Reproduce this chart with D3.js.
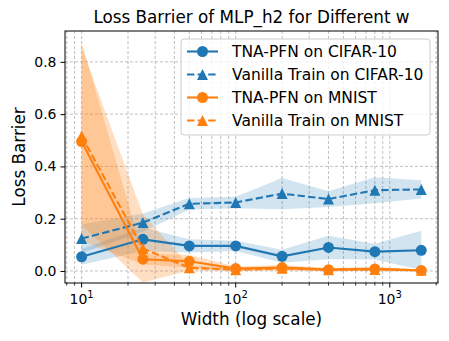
<!DOCTYPE html>
<html>
<head>
<meta charset="utf-8">
<script src="https://cdn.jsdelivr.net/npm/d3@7"></script>
<style>
  body { margin: 0; background: #fff; }
  svg { font-family: "DejaVu Sans", sans-serif; }
</style>
</head>
<body>
<div id="chart"></div>
<script>
// widths on the x axis
var widths = [10, 25, 50, 100, 200, 400, 800, 1600];

// mean loss barrier
var tnaCifar     = [0.054, 0.121, 0.096, 0.096, 0.056, 0.090, 0.074, 0.079];
var vanillaCifar = [0.124, 0.185, 0.257, 0.262, 0.296, 0.275, 0.309, 0.312];
var tnaMnist     = [0.495, 0.045, 0.037, 0.009, 0.013, 0.005, 0.008, 0.002];
var vanillaMnist = [0.516, 0.086, 0.012, 0.005, 0.010, 0.005, 0.006, 0.003];

// spread (std) shown as shaded band
var tnaCifarStd     = [0.030, 0.045, 0.025, 0.020, 0.025, 0.045, 0.030, 0.075];
var vanillaCifarStd = [0.055, 0.035, 0.022, 0.022, 0.060, 0.030, 0.050, 0.035];
var tnaMnistStd     = [0.380, 0.020, 0.025, 0.008, 0.010, 0.006, 0.008, 0.004];
var vanillaMnistStd = [0.340, 0.130, 0.010, 0.006, 0.008, 0.005, 0.006, 0.004];

var yTicks = [0.0, 0.2, 0.4, 0.6, 0.8];
var xMajor = [10, 100, 1000];

var series = [
  {name: 'TNA-PFN on CIFAR-10', mean: tnaCifar, std: tnaCifarStd, color: '#1f77b4', dash: null, marker: 'circle'},
  {name: 'Vanilla Train on CIFAR-10', mean: vanillaCifar, std: vanillaCifarStd, color: '#1f77b4', dash: '7.4,3.2', marker: 'triangle'},
  {name: 'TNA-PFN on MNIST', mean: tnaMnist, std: tnaMnistStd, color: '#ff7f0e', dash: null, marker: 'circle'},
  {name: 'Vanilla Train on MNIST', mean: vanillaMnist, std: vanillaMnistStd, color: '#ff7f0e', dash: '7.4,3.2', marker: 'triangle'}
];

var W = 449, H = 341;
var margin = {left: 65, top: 31, right: 11, bottom: 58};
var pw = W - margin.left - margin.right;
var ph = H - margin.top - margin.bottom;

var svg = d3.select('#chart').append('svg')
  .attr('width', W).attr('height', H);

var x = d3.scaleLog().domain([7.8, 2055]).range([0, pw]);
var y = d3.scaleLinear().domain([-0.046, 0.918]).range([ph, 0]);

var g = svg.append('g').attr('transform', 'translate(' + margin.left + ',' + margin.top + ')');

g.append('defs').append('clipPath').attr('id', 'clip')
  .append('rect').attr('width', pw).attr('height', ph);

// grid: x major + minor, y major
var xMinor = [];
[1, 10, 100, 1000].forEach(function(b) {
  for (var k = 2; k <= 9; k++) {
    var v = b * k;
    if (v > 7.8 && v < 2055) xMinor.push(v);
  }
});
var grid = g.append('g').attr('clip-path', 'url(#clip)');
grid.selectAll('.gx').data(xMajor.concat(xMinor)).enter().append('line')
  .attr('x1', function(d) { return x(d); }).attr('x2', function(d) { return x(d); })
  .attr('y1', 0).attr('y2', ph)
  .attr('stroke', '#b0b0b0').attr('stroke-width', 0.8).attr('stroke-dasharray', '3,2');
grid.selectAll('.gy').data(yTicks).enter().append('line')
  .attr('x1', 0).attr('x2', pw)
  .attr('y1', function(d) { return y(d); }).attr('y2', function(d) { return y(d); })
  .attr('stroke', '#b0b0b0').attr('stroke-width', 0.8).attr('stroke-dasharray', '3,2');

// bands
var area = d3.area()
  .x(function(d) { return x(d.w); })
  .y0(function(d) { return y(d.m - d.s); })
  .y1(function(d) { return y(d.m + d.s); });

var plot = g.append('g').attr('clip-path', 'url(#clip)');
series.forEach(function(s) {
  var pts = widths.map(function(w, i) { return {w: w, m: s.mean[i], s: s.std[i]}; });
  plot.append('path').datum(pts).attr('d', area)
    .attr('fill', s.color).attr('fill-opacity', s.color === '#ff7f0e' ? 0.25 : 0.2);
});

var line = d3.line()
  .x(function(d) { return x(d.w); })
  .y(function(d) { return y(d.m); });

// matplotlib style '^' marker: width = height
var ms = 11;
var triPath = 'M0,' + (-ms / 2) + 'L' + (ms / 2) + ',' + (ms / 2) + 'L' + (-ms / 2) + ',' + (ms / 2) + 'Z';

series.forEach(function(s) {
  var pts = widths.map(function(w, i) { return {w: w, m: s.mean[i]}; });
  plot.append('path').datum(pts).attr('d', line)
    .attr('fill', 'none').attr('stroke', s.color).attr('stroke-width', 2.1)
    .attr('stroke-dasharray', s.dash);
  if (s.marker === 'circle') {
    plot.selectAll(null).data(pts).enter().append('circle')
      .attr('cx', function(d) { return x(d.w); }).attr('cy', function(d) { return y(d.m); })
      .attr('r', ms / 2).attr('fill', s.color);
  } else {
    plot.selectAll(null).data(pts).enter().append('path')
      .attr('d', triPath)
      .attr('transform', function(d) { return 'translate(' + x(d.w) + ',' + y(d.m) + ')'; })
      .attr('fill', s.color);
  }
});

// frame
g.append('rect').attr('width', pw).attr('height', ph)
  .attr('fill', 'none').attr('stroke', '#000').attr('stroke-width', 1);

// y axis
var yAxis = d3.axisLeft(y).tickValues(yTicks).tickFormat(d3.format('.1f')).tickSize(4.5).tickPadding(4);
var ya = g.append('g').call(yAxis);
ya.select('.domain').remove();
ya.selectAll('text').attr('font-size', 14).attr('font-family', 'DejaVu Sans').attr('fill', '#000');
ya.selectAll('line').attr('stroke-width', 1);

// x axis, major + minor ticks
var xa = g.append('g').attr('transform', 'translate(0,' + ph + ')');
xa.selectAll('.mj').data(xMajor).enter().append('line')
  .attr('x1', function(d) { return x(d); }).attr('x2', function(d) { return x(d); })
  .attr('y1', 0).attr('y2', 4.5).attr('stroke', '#000').attr('stroke-width', 1);
xa.selectAll('.mn').data(xMinor).enter().append('line')
  .attr('x1', function(d) { return x(d); }).attr('x2', function(d) { return x(d); })
  .attr('y1', 0).attr('y2', 2.6).attr('stroke', '#000').attr('stroke-width', 0.8);
var xl = xa.selectAll('.lab').data(xMajor).enter().append('text')
  .attr('x', function(d) { return x(d); }).attr('y', 21)
  .attr('text-anchor', 'middle').attr('font-size', 14);
xl.append('tspan').text('10');
xl.append('tspan').attr('dy', -6).attr('font-size', 10)
  .text(function(d) { return Math.round(Math.log10(d)); });

// titles
svg.append('text').attr('x', margin.left + pw / 2).attr('y', 22.5)
  .attr('text-anchor', 'middle').attr('font-size', 16.8).text('Loss Barrier of MLP_h2 for Different w');
svg.append('text').attr('x', margin.left + pw / 2).attr('y', 325)
  .attr('text-anchor', 'middle').attr('font-size', 16.8).text('Width (log scale)');
svg.append('text').attr('transform', 'translate(25,' + (margin.top + ph / 2) + ') rotate(-90)')
  .attr('text-anchor', 'middle').attr('font-size', 16.8).text('Loss Barrier');

// legend
var lg = svg.append('g').attr('transform', 'translate(181,39)');
lg.append('rect').attr('width', 249).attr('height', 96).attr('rx', 3)
  .attr('fill', '#fff').attr('fill-opacity', 0.8).attr('stroke', '#ccc').attr('stroke-width', 1);
series.forEach(function(s, i) {
  var yy = 12.5 + i * 23;
  var row = lg.append('g').attr('transform', 'translate(0,' + yy + ')');
  row.append('line').attr('x1', 6).attr('x2', 37).attr('y1', 0).attr('y2', 0)
    .attr('stroke', s.color).attr('stroke-width', 2.1).attr('stroke-dasharray', s.dash);
  if (s.marker === 'circle') {
    row.append('circle').attr('cx', 21.5).attr('cy', 0).attr('r', ms / 2).attr('fill', s.color);
  } else {
    row.append('path').attr('d', triPath).attr('transform', 'translate(21.5,0)').attr('fill', s.color);
  }
  row.append('text').attr('x', 51).attr('y', 5.5).attr('font-size', 15.5).text(s.name);
});
</script>
</body>
</html>
